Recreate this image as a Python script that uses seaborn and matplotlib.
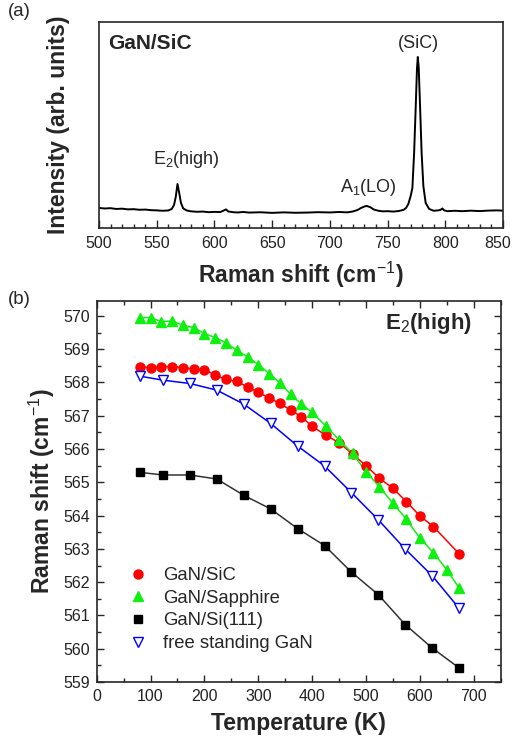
import numpy as np
import pandas as pd
import matplotlib
matplotlib.use("Agg")
import matplotlib.pyplot as plt
from matplotlib.ticker import MultipleLocator
from matplotlib.lines import Line2D
from matplotlib.transforms import ScaledTranslation
import seaborn as sns

# (a) Raman spectrum of GaN/SiC (arb. units)
shift = [500, 505, 510, 515, 520, 525, 530, 535, 540, 545, 550, 555, 560, 563, 565,
         566.5, 568, 569.5, 571, 573, 576, 580, 585, 590, 595, 600, 605, 608, 610,
         612, 616, 620, 625, 630, 640, 650, 660, 670, 680, 690, 700, 708, 715, 720,
         724, 727, 730, 732, 735, 738, 742, 746, 750, 755, 760, 764, 766, 768, 770,
         771.5, 773, 774.5, 775.5, 776.2, 777, 778.2, 779.5, 781, 783, 786, 790,
         794, 796, 797.5, 799, 802, 808, 815, 822, 830, 838, 845, 850]
intensity = [20, 19.5, 19.8, 19, 19.3, 18.6, 18.8, 18.2, 18.4, 17.8, 17.6, 17.2,
             17.5, 19, 23, 31, 44, 35, 25, 19.5, 17.5, 16.6, 16.2, 16.4, 15.8, 16.1,
             15.9, 17.4, 18.6, 16.5, 15.8, 15.5, 16, 15.4, 15.7, 15.1, 15.6, 15.2,
             15.4, 15.8, 15.5, 16.0, 15.6, 16.5, 18, 20, 21.5, 22, 20.8, 18.5, 17.2,
             16.6, 16.8, 16.4, 17, 18.2, 20, 24, 32, 40, 75, 125, 160, 171, 160, 120,
             75, 42, 25, 19, 17.2, 17.6, 18.2, 19.5, 17.6, 16.8, 17.2, 16.8, 17.3,
             16.9, 17.4, 17.6, 17.3]

# (b) E2(high) frequency vs temperature
T_sic = [80, 100, 120, 140, 160, 180, 200, 220, 240, 260, 280, 300, 320, 340, 360,
         380, 400, 425, 450, 475, 500, 525, 550, 575, 600, 625, 673]
w_sic = [568.47, 568.45, 568.48, 568.48, 568.45, 568.40, 568.39, 568.22, 568.09,
         568.03, 567.87, 567.70, 567.54, 567.37, 567.17, 566.97, 566.68, 566.42,
         566.19, 565.85, 565.50, 565.12, 564.82, 564.42, 563.99, 563.67, 562.85]

T_sap = [80, 100, 120, 140, 160, 180, 200, 220, 240, 260, 280, 300, 320, 340, 360,
         380, 400, 425, 450, 475, 500, 525, 550, 575, 600, 625, 650, 673]
w_sap = [569.95, 569.95, 569.83, 569.85, 569.72, 569.65, 569.47, 569.35, 569.19,
         568.97, 568.77, 568.54, 568.27, 567.99, 567.65, 567.35, 567.10, 566.70,
         566.27, 565.87, 565.32, 564.86, 564.37, 563.89, 563.32, 562.89, 562.37,
         561.82]

T_si = [80, 123, 173, 223, 273, 323, 373, 423, 473, 523, 573, 623, 673]
w_si = [565.30, 565.22, 565.22, 565.10, 564.61, 564.20, 563.61, 563.10, 562.30,
        561.62, 560.72, 560.02, 559.42]

T_fs = [80, 123, 173, 223, 273, 323, 373, 423, 473, 523, 573, 623, 673]
w_fs = [568.19, 568.07, 567.97, 567.77, 567.35, 566.77, 566.09, 565.49, 564.69,
        563.87, 562.99, 562.19, 561.21]

labels = ['GaN/SiC', 'GaN/Sapphire', 'GaN/Si(111)', 'free standing GaN']

sns.set_style('ticks')
plt.rcParams['font.family'] = ['Liberation Sans', 'DejaVu Sans']
plt.rcParams['mathtext.fontset'] = 'custom'
plt.rcParams['mathtext.rm'] = 'Liberation Sans'
plt.rcParams['mathtext.bf'] = 'Liberation Sans:bold'

fig = plt.figure(figsize=(5.14, 7.38), dpi=100)
ax1 = fig.add_axes([0.1926, 0.6911, 0.7860, 0.2791])
ax2 = fig.add_axes([0.1881, 0.0759, 0.7860, 0.5163])

tick_col = '#222222'

# ---- panel (a)
spec = pd.DataFrame({'shift': shift, 'I': intensity})
sns.lineplot(data=spec, x='shift', y='I', color='black', lw=1.4, ax=ax1)
ax1.set_xlim(500, 850)
ax1.set_ylim(0, 206)
ax1.set_xticks(range(500, 851, 50))
ax1.xaxis.set_minor_locator(MultipleLocator(10))
ax1.tick_params(axis='x', which='major', direction='in', length=6, width=1,
                labelsize=11.5, pad=6, labelcolor=tick_col)
ax1.tick_params(axis='x', which='minor', direction='in', length=3, width=1)
ax1.set_yticks([])
# keep the last tick label inside the figure edge
last = ax1.get_xticklabels()[-1]
last.set_transform(last.get_transform() + ScaledTranslation(-0.05, 0, fig.dpi_scale_trans))
ax1.set_xlabel('Raman shift (cm$^{-1}$)', fontsize=16.5, fontweight='bold')
ax1.xaxis.set_label_coords(0.5, -0.155)
ax1.set_ylabel('Intensity (arb. units)', fontsize=16.5, fontweight='bold')
ax1.yaxis.set_label_coords(-0.072, 0.5)
for s in ax1.spines.values():
    s.set_linewidth(1.2)
ax1.text(0.022, 0.897, 'GaN/SiC', transform=ax1.transAxes, fontsize=15,
         fontweight='bold', va='center', ha='left')
ax1.text(575.5, 68, 'E$_2$(high)', fontsize=13, ha='center', va='center')
ax1.text(733, 40, 'A$_1$(LO)', fontsize=13, ha='center', va='center')
ax1.text(777, 184, '(SiC)', fontsize=13, ha='center', va='center')

# ---- panel (b)
series = [(T_sic, w_sic, '#ff0000', 'o', 6.5, '#ff0000', '#ff0000'),
          (T_sap, w_sap, '#11ee11', '^', 7, '#11ee11', '#11ee11'),
          (T_si, w_si, '#333333', 's', 5.5, 'black', 'black'),
          (T_fs, w_fs, '#0000ff', 'v', 7, 'white', '#0000ff')]
handles = []
for (T, w, lc, mk, ms, fc, ec), lab in zip(series, labels):
    d = pd.DataFrame({'T': T, 'w': w})
    sns.lineplot(data=d, x='T', y='w', color=lc, lw=1.1, ax=ax2)
    ax2.plot(T, w, ls='none', marker=mk, ms=ms, mfc=fc, mec=ec, mew=1.0, zorder=3)
    handles.append(Line2D([], [], ls='none', marker=mk, ms=ms, mfc=fc, mec=ec, mew=1.0))

ax2.set_xlim(0, 750)
ax2.set_ylim(559, 570.45)
ax2.xaxis.set_major_locator(MultipleLocator(100))
ax2.xaxis.set_minor_locator(MultipleLocator(50))
ax2.yaxis.set_major_locator(MultipleLocator(1))
ax2.yaxis.set_minor_locator(MultipleLocator(0.5))
ax2.tick_params(which='major', direction='in', length=5, width=1, labelsize=11.5,
                top=True, right=True, labelcolor=tick_col, pad=5)
ax2.tick_params(which='minor', direction='in', length=3, width=1, top=True, right=True)
ax2.set_xlabel('Temperature (K)', fontsize=16.5, fontweight='bold')
ax2.xaxis.set_label_coords(0.5, -0.078)
ax2.set_ylabel('Raman shift (cm$^{-1}$)', fontsize=16.5, fontweight='bold')
ax2.yaxis.set_label_coords(-0.098, 0.5)
for s in ax2.spines.values():
    s.set_linewidth(1.2)
ax2.text(0.93, 0.942, 'E$_2$(high)', transform=ax2.transAxes, fontsize=16,
         fontweight='bold', ha='right', va='center')
ax2.legend(handles, labels, loc='upper left', bbox_to_anchor=(0.045, 0.325),
           frameon=False, fontsize=13.3, handletextpad=0.6, labelspacing=0.3,
           borderpad=0, handlelength=1.5)

fig.text(0.016, 0.984, '(a)', fontsize=13.4, ha='left', va='center')
fig.text(0.016, 0.594, '(b)', fontsize=13.4, ha='left', va='center')

fig.savefig('out.png', dpi=100)
